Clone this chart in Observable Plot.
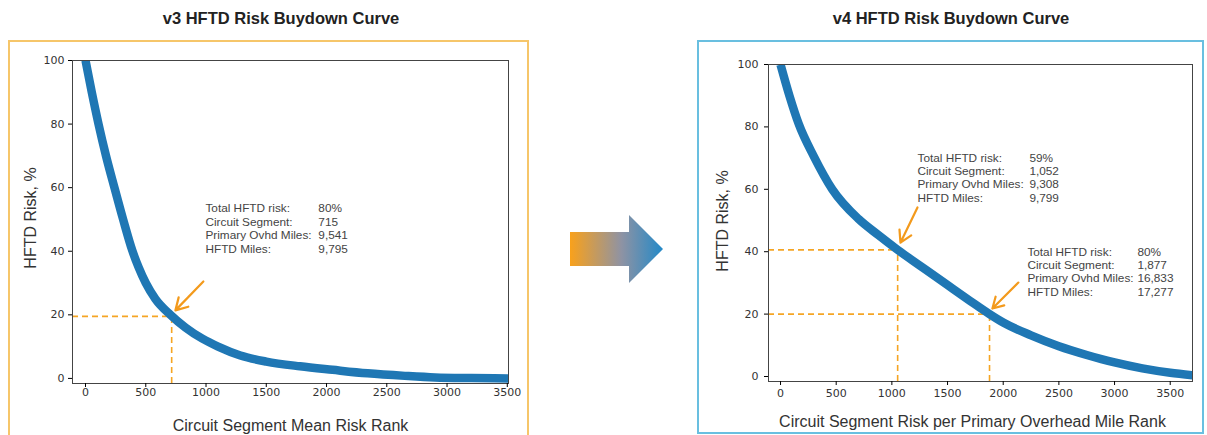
<!DOCTYPE html>
<html><head><meta charset="utf-8">
<script src="https://cdn.jsdelivr.net/npm/d3@7"></script>
<script src="https://cdn.jsdelivr.net/npm/@observablehq/plot@0.6"></script>
<style>
body{margin:0;width:1207px;height:435px;position:relative;overflow:hidden;background:#fff;font-family:"Liberation Sans",Arial,sans-serif}
.title{position:absolute;top:9px;font-weight:bold;font-size:16.5px;color:#222;transform:translateX(-50%);white-space:nowrap}
.box{position:absolute;box-sizing:border-box}
#leftBox{left:8px;top:40px;width:521px;height:410px;border:2px solid #f6c66a}
#rightBox{left:697px;top:40px;width:507px;height:394px;border:2px solid #69bfe0}
.chart{position:absolute}
</style></head>
<body>
<div class="box" id="leftBox"></div>
<div class="box" id="rightBox"></div>
<div class="title" style="left:281px">v3 HFTD Risk Buydown Curve</div>
<div class="title" style="left:951px">v4 HFTD Risk Buydown Curve</div>
<svg style="position:absolute;left:565px;top:210px" width="104" height="80">
  <defs><linearGradient id="g" x1="0" x2="1" y1="0" y2="0">
    <stop offset="0" stop-color="#f9a11b"/><stop offset="0.55" stop-color="#8f93a3"/><stop offset="1" stop-color="#2389c8"/>
  </linearGradient></defs>
  <polygon points="5,22 64,22 64,5 98,39 64,73 64,56 5,56" fill="url(#g)"/>
</svg>
<div id="c1" class="chart" style="left:10px;top:45px"></div>
<div id="c2" class="chart" style="left:700px;top:45px"></div>
<script>
// ---- data ----
const v3Rank = [0, 52, 108, 170, 240, 312, 390, 440, 500, 580, 705, 830, 970, 1100, 1285, 1500, 1780, 2050, 2340, 2650, 2900, 3200, 3510];
const v3Risk = [100, 90, 80, 70, 60, 50, 40, 35, 30, 25, 20, 16, 12.5, 10, 7.2, 5.3, 3.8, 2.7, 1.6, 0.8, 0.3, 0.1, 0];
const v4Rank = [0, 80, 163, 300, 465, 700, 880, 1052, 1250, 1500, 1700, 1877, 2000, 2250, 2500, 2750, 3000, 3250, 3500, 3700];
const v4Risk = [100, 90, 81, 70.5, 60, 50.5, 45.3, 40.6, 35.6, 29.3, 24.3, 20, 17.3, 13.2, 9.7, 6.9, 4.5, 2.6, 1.2, 0.4];
const xTicks = [0, 500, 1000, 1500, 2000, 2500, 3000, 3500];
const yTicks = [0, 20, 40, 60, 80, 100];
const v3CutRank = [715];
const v3CutRisk = [19.5];
const v4CutRank = [1052, 1877];
const v4CutRisk = [40.6, 20];
const noteLabels = ["Total HFTD risk:", "Circuit Segment:", "Primary Ovhd Miles:", "HFTD Miles:"];
const v3NoteValues = ["80%", "715", "9,541", "9,795"];
const v4NoteValuesA = ["59%", "1,052", "9,308", "9,799"];
const v4NoteValuesB = ["80%", "1,877", "16,833", "17,277"];
const v3XLabel = "Circuit Segment Mean Risk Rank";
const v4XLabel = "Circuit Segment Risk per Primary Overhead Mile Rank";
const yLabel = "HFTD Risk, %";

// ---- styles ----
const BLUE = "#1f77b4", ORANGE = "#f5a524", ARROW = "#f39a1c", TXT = "#444";
const rows = (a, b) => a.map((d, i) => ({x: d, y: b[i]}));

function chart(o) {
  const [x0] = o.xDomain, y0 = o.yDomain[0];
  const cuts = rows(o.cutRank, o.cutRisk);
  const marks = [
    Plot.ruleY(cuts, {y: "y", x1: x0, x2: "x", stroke: ORANGE, strokeWidth: 1.6, strokeDasharray: "6,4"}),
    Plot.ruleX(cuts, {x: "x", y1: y0, y2: "y", stroke: ORANGE, strokeWidth: 1.6, strokeDasharray: "6,4"}),
    Plot.line(rows(o.rank, o.risk), {x: "x", y: "y", stroke: BLUE, strokeWidth: 8.5, curve: "monotone-x", strokeLinecap: "butt", clip: true}),
    Plot.frame({stroke: "#444", strokeWidth: 1}),
    Plot.axisX({ticks: xTicks, tickFormat: d => String(d), tickSize: 4, tickPadding: o.xPad, label: null, fontSize: 11, fill: "#333"}),
    Plot.axisY({ticks: yTicks, tickFormat: d => String(d), tickSize: 4, tickPadding: o.yPad, label: null, fontSize: 11, fill: "#333"}),
    Plot.text([o.xLabel], {frameAnchor: "bottom", textAnchor: "middle", lineAnchor: "middle", dx: o.xLabDx, dy: o.xLabDy, fontSize: 16, fill: "#333", fontFamily: "Liberation Sans"}),
    Plot.text([yLabel], {frameAnchor: "left", textAnchor: "middle", lineAnchor: "middle", dx: -o.yLabDx, dy: o.yLabDy, rotate: -90, fontSize: 16, fill: "#333", fontFamily: "Liberation Sans"})
  ];
  for (const n of o.notes) {
    marks.push(Plot.text([noteLabels.join("\n")], {x: n.lx, y: n.y, textAnchor: "start", lineAnchor: "middle", lineHeight: 1.14, fontSize: 11.8, fill: TXT, fontFamily: "Liberation Sans"}));
    marks.push(Plot.text([n.values.join("\n")], {x: n.vx, y: n.y, textAnchor: "start", lineAnchor: "middle", lineHeight: 1.14, fontSize: 11.8, fill: TXT, fontFamily: "Liberation Sans"}));
    marks.push(Plot.arrow([n.arrow], {x1: "x1", y1: "y1", x2: "x2", y2: "y2", stroke: ARROW, strokeWidth: 2.2, headLength: 10}));
  }
  return Plot.plot({
    width: o.width, height: 390,
    marginLeft: o.ml, marginRight: o.mr, marginTop: o.mt, marginBottom: o.mb,
    style: {fontFamily: "DejaVu Sans", fontSize: "11px", background: "transparent", overflow: "visible"},
    x: {domain: o.xDomain},
    y: {domain: o.yDomain},
    marks
  });
}

document.getElementById("c1").appendChild(chart({
  rank: v3Rank, risk: v3Risk, cutRank: v3CutRank, cutRisk: v3CutRisk,
  xDomain: [-108, 3510], yDomain: [-1.6, 100],
  width: 510, ml: 62, mr: 12, mt: 15, mb: 52, xPad: 1, yPad: 4, xLabDx: 0, xLabDy: 42, yLabDx: 42, yLabDy: -4,
  xLabel: v3XLabel,
  notes: [{lx: 995, vx: 1932, y: 47.2, values: v3NoteValues, arrow: {x1: 978, y1: 30.5, x2: 746, y2: 21.4}}]
}));

document.getElementById("c2").appendChild(chart({
  rank: v4Rank, risk: v4Risk, cutRank: v4CutRank, cutRisk: v4CutRisk,
  xDomain: [-108, 3700], yDomain: [-1.6, 100],
  width: 500, ml: 68, mr: 8, mt: 19, mb: 54, xPad: 4, yPad: 6, xLabDx: -8, xLabDy: 40, yLabDx: 46, yLabDy: -2,
  xLabel: v4XLabel,
  notes: [
    {lx: 1230, vx: 2235, y: 63.8, values: v4NoteValuesA, arrow: {x1: 1230, y1: 54.2, x2: 1077, y2: 42.9}},
    {lx: 2217, vx: 3205, y: 33.7, values: v4NoteValuesB, arrow: {x1: 2136, y1: 30.1, x2: 1903, y2: 21.8}}
  ]
}));
</script>
</body></html>
